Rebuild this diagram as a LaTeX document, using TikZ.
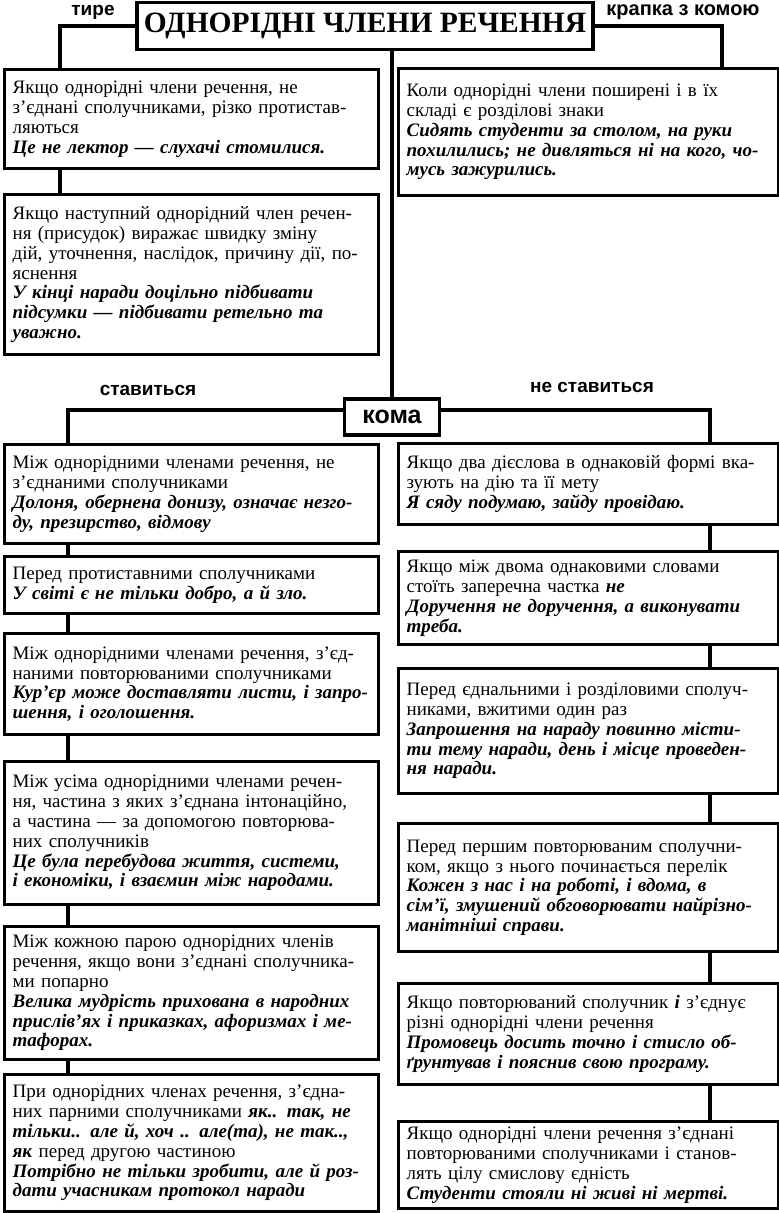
\documentclass[tikz,border=0pt]{standalone}
\usepackage{fontspec}
\setmainfont{Liberation Serif}
\setsansfont{Liberation Sans}
\usepackage{tikz}

\newcommand{\exline}[1]{\textbf{\textit{#1}}}

\begin{document}
\begin{tikzpicture}[x=1pt, y=-1pt,
    box/.style={draw, line width=3.2pt, anchor=north west, align=left,
      inner xsep=8pt, inner ysep=1pt, font=\fontsize{19}{19.8}\selectfont},
    lbox/.style={box, text width=358pt},
    rbox/.style={box, text width=364pt},
    conn/.style={line width=3.2pt},
    tag/.style={font=\sffamily\bfseries\fontsize{19}{19}\selectfont}]
        \useasboundingbox (0,0) rectangle (779,1213);

        % title
        \node[draw, line width=3.2pt, minimum width=456pt, minimum height=47pt,
          font=\bfseries\fontsize{29.5}{29.5}\selectfont] (title) at (365,26)
          {ОДНОРІДНІ ЧЛЕНИ РЕЧЕННЯ};
        \node[tag] (tire) at (93,12) {тире};
        \node[tag, font=\sffamily\bfseries\fontsize{20}{20}\selectfont] (krapka) at (683,12) {крапка з комою};

        \coordinate (tirecol) at (60,0);
        \coordinate (krapcol) at (722,0);
        \coordinate (lcol) at (68,0);
        \coordinate (rcol) at (710,0);

        % tire
        \node[lbox, minimum height=99pt] (t1) at (3,68) {
          Якщо однорідні члени речення, не\\
          з’єднані сполучниками, різко протистав-\\
          ляються\\
          \exline{Це не лектор — слухачі стомилися.}};
        \node[lbox, minimum height=160pt] (t2) at (3,193) {
          Якщо наступний однорідний член речен-\\
          ня (присудок) виражає швидку зміну\\
          дій, уточнення, наслідок, причину дії, по-\\
          яснення\\
          \exline{У кінці наради доцільно підбивати}\\
          \exline{підсумки — підбивати ретельно та}\\
          \exline{уважно.}};

        % krapka z komoju
        \node[rbox, minimum height=127pt] (k1) at (397,67) {
          Коли однорідні члени поширені і в їх\\
          складі є розділові знаки\\
          \exline{Сидять студенти за столом, на руки}\\
          \exline{похилились; не дивляться ні на кого, чо-}\\
          \exline{мусь зажурились.}};

        % koma
        \node[draw, line width=3.2pt, minimum width=95pt, minimum height=36pt,
          font=\sffamily\bfseries\fontsize{25}{25}\selectfont] (koma) at (392,417) {кома};
        \node[tag] (stav) at (148,390) {ставиться};
        \node[tag] (nestav) at (592,387) {не ставиться};

        % stavytsia
        \node[lbox, minimum height=99pt] (l1) at (3,443) {
          Між однорідними членами речення, не\\
          з’єднаними сполучниками\\
          \exline{Долоня, обернена донизу, означає незго-}\\
          \exline{ду, презирство, відмову}};
        \node[lbox, minimum height=57pt] (l2) at (3,555) {
          Перед протиставними сполучниками\\
          \exline{У світі є не тільки добро, а й зло.}};
        \node[lbox, minimum height=101pt] (l3) at (3,632) {
          Між однорідними членами речення, з’єд-\\
          наними повторюваними сполучниками\\
          \exline{Кур’єр може доставляти листи, і запро-}\\
          \exline{шення, і оголошення.}};
        \node[lbox, minimum height=143pt] (l4) at (3,760) {
          Між усіма однорідними членами речен-\\
          ня, частина з яких з’єднана інтонаційно,\\
          а частина — за допомогою повторюва-\\
          них сполучників\\
          \exline{Це була перебудова життя, системи,}\\
          \exline{і економіки, і взаємин між народами.}};
        \node[lbox, minimum height=133pt] (l5) at (3,925) {
          Між кожною парою однорідних членів\\
          речення, якщо вони з’єднані сполучника-\\
          ми попарно\\
          \exline{Велика мудрість прихована в народних}\\
          \exline{прислів’ях і приказках, афоризмах і ме-}\\
          \exline{тафорах.}};
        \node[lbox, minimum height=137pt] (l6) at (3,1073) {
          При однорідних членах речення, з’єдна-\\
          них парними сполучниками \exline{як.. так, не}\\
          \exline{тільки.. але й, хоч .. але(та), не так..,}\\
          \exline{як} перед другою частиною\\
          \exline{Потрібно не тільки зробити, але й роз-}\\
          \exline{дати учасникам протокол наради}};

        % ne stavytsia
        \node[rbox, minimum height=81pt] (r1) at (397,442) {
          Якщо два дієслова в однаковій формі вка-\\
          зують на дію та її мету\\
          \exline{Я сяду подумаю, зайду провідаю.}};
        \node[rbox, minimum height=93pt] (r2) at (397,550) {
          Якщо між двома однаковими словами\\
          стоїть заперечна частка \exline{не}\\
          \exline{Доручення не доручення, а виконувати}\\
          \exline{треба.}};
        \node[rbox, minimum height=125pt] (r3) at (397,667) {
          Перед єднальними і розділовими сполуч-\\
          никами, вжитими один раз\\
          \exline{Запрошення на нараду повинно місти-}\\
          \exline{ти тему наради, день і місце проведен-}\\
          \exline{ня наради.}};
        \node[rbox, minimum height=128pt] (r4) at (397,822) {
          Перед першим повторюваним сполучни-\\
          ком, якщо з нього починається перелік\\
          \exline{Кожен з нас і на роботі, і вдома, в}\\
          \exline{сім’ї, змушений обговорювати найрізно-}\\
          \exline{манітніші справи.}};
        \node[rbox, minimum height=101pt] (r5) at (397,982) {
          Якщо повторюваний сполучник \exline{і} з’єднує\\
          різні однорідні члени речення\\
          \exline{Промовець досить точно і стисло об-}\\
          \exline{ґрунтував і пояснив свою програму.}};
        \node[rbox, minimum height=87pt] (r6) at (397,1120) {
          Якщо однорідні члени речення з’єднані\\
          повторюваними сполучниками і станов-\\
          лять цілу смислову єдність\\
          \exline{Студенти стояли ні живі ні мертві.}};

        % connectors
        \draw[conn] (title.west) -| (t1.north -| tirecol);
        \draw[conn] (t1.south -| tirecol) -- (t2.north -| tirecol);
        \draw[conn] (title.east) -| (k1.north -| krapcol);
        \draw[conn] (title.south -| koma.north) -- (koma.north);
        \draw[conn] ([yshift=7pt]koma.west) -| (l1.north -| lcol);
        \draw[conn] ([yshift=7pt]koma.east) -| (r1.north -| rcol);
        \foreach \a/\b in {l1/l2, l2/l3, l3/l4, l4/l5, l5/l6}
          \draw[conn] (\a.south -| lcol) -- (\b.north -| lcol);
        \foreach \a/\b in {r1/r2, r2/r3, r3/r4, r4/r5, r5/r6}
          \draw[conn] (\a.south -| rcol) -- (\b.north -| rcol);

    \end{tikzpicture}
\end{document}
